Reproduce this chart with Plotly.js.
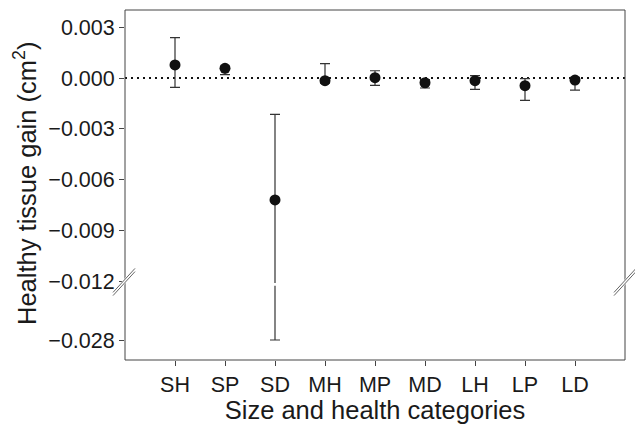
<!DOCTYPE html>
<html>
<head>
<meta charset="utf-8">
<script src="https://cdn.plot.ly/plotly-3.0.1.min.js"></script>
<style>html,body{margin:0;padding:0;background:#fff;}#chart{width:635px;height:424px;}</style>
</head>
<body>
<div id="chart"></div>
<script>
const categories = ['SH', 'SP', 'SD', 'MH', 'MP', 'MD', 'LH', 'LP', 'LD'];
const meanGain = [0.00077, 0.00057, -0.0072, -0.00016, 0.00002, -0.00028, -0.00016, -0.00045, -0.00012];
const upperBound = [0.00238, 0.0007, -0.00215, 0.00085, 0.00043, -0.0001, 0.00014, -0.00004, 0.00002];
const lowerBound = [-0.00055, 0.0002, -0.028, -0.0003, -0.00043, -0.00059, -0.00067, -0.00132, -0.00071];
const upperTicks = [0.003, 0, -0.003, -0.006, -0.009, -0.012];
const lowerTicks = [-0.028];

const errPlus = upperBound.map((u, i) => u - meanGain[i]);
const errMinus = meanGain.map((m, i) => m - lowerBound[i]);

const FONT = 'Liberation Sans, Arial, Helvetica, sans-serif';
const INK = '#1a1a1a';

const errStyle = {type: 'data', symmetric: false, array: errPlus, arrayminus: errMinus,
  color: '#333', thickness: 1.2, width: 5};

const traces = [
  {x: categories, y: meanGain, type: 'scatter', mode: 'markers', xaxis: 'x', yaxis: 'y',
   marker: {color: '#111', size: 11}, error_y: errStyle, showlegend: false, hoverinfo: 'x+y'},
  {x: categories, y: meanGain, type: 'scatter', mode: 'markers', xaxis: 'x', yaxis: 'y2',
   marker: {color: '#111', size: 11, opacity: 0}, error_y: errStyle, showlegend: false, hoverinfo: 'skip'}
];

// pixel helpers for decorations (plot area 125..625 x 10..360)
const px = v => (v - 125) / 500;
const py = v => (360 - v) / 350;

function breakMark(cx) {
  const out = [];
  out.push({type: 'line', xref: 'paper', yref: 'paper', x0: px(cx - 11), y0: py(294), x1: px(cx + 11), y1: py(270),
    line: {color: '#fff', width: 4}});
  [-1.6, 1.6].forEach(o => {
    out.push({type: 'line', xref: 'paper', yref: 'paper', x0: px(cx - 11), y0: py(294 + o), x1: px(cx + 11), y1: py(270 + o),
      line: {color: '#555', width: 0.9}});
  });
  return out;
}

const layout = {
  width: 635, height: 424,
  margin: {l: 125, r: 10, t: 10, b: 64},
  paper_bgcolor: '#fff', plot_bgcolor: '#fff',
  font: {family: FONT, color: INK, size: 21},
  showlegend: false,
  xaxis: {
    type: 'category', categoryorder: 'array', categoryarray: categories,
    range: [-1, 9], anchor: 'y2', showline: false, showgrid: false, zeroline: false,
    ticks: 'outside', ticklen: 5, tickwidth: 1, tickcolor: '#444',
    tickfont: {family: FONT, size: 21.5, color: INK},
    title: {text: 'Size and health categories', font: {family: FONT, size: 25.5, color: INK}, standoff: 8}
  },
  yaxis: {
    domain: [0.22, 1], range: [-0.012108, 0.004017], anchor: 'x',
    showline: false, showgrid: false, zeroline: false,
    tickmode: 'array', tickvals: upperTicks, tickformat: '.3f',
    ticks: 'outside', ticklen: 5, tickwidth: 1, tickcolor: '#444',
    tickfont: {family: FONT, size: 21.5, color: INK}
  },
  yaxis2: {
    domain: [0, 0.212], range: [-0.030, -0.02258], anchor: 'x',
    showline: false, showgrid: false, zeroline: false,
    tickmode: 'array', tickvals: lowerTicks, tickformat: '.3f',
    ticks: 'outside', ticklen: 5, tickwidth: 1, tickcolor: '#444',
    tickfont: {family: FONT, size: 21.5, color: INK}
  },
  shapes: [
    {type: 'line', xref: 'paper', yref: 'y', x0: 0, x1: 1, y0: 0, y1: 0, layer: 'below',
     line: {color: '#111', width: 2, dash: '2px,4px'}},
    {type: 'rect', xref: 'paper', yref: 'paper', x0: 0, x1: 1, y0: 0, y1: 1,
     line: {color: '#444', width: 1}}
  ].concat(breakMark(124), breakMark(625)),
  annotations: [
    {text: 'Healthy tissue gain (cm<sup>2</sup>)', xref: 'paper', yref: 'paper',
     x: px(25), y: py(184), xanchor: 'center', yanchor: 'middle', textangle: -90,
     showarrow: false, font: {family: FONT, size: 25.5, color: INK}}
  ]
};

Plotly.newPlot('chart', traces, layout, {displayModeBar: false, staticPlot: true});
</script>
</body>
</html>
